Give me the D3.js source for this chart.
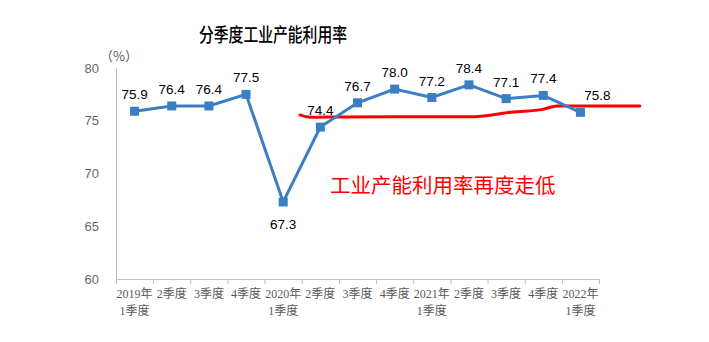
<!DOCTYPE html>
<html><head><meta charset="utf-8">
<script src="https://cdn.jsdelivr.net/npm/d3@7"></script>
<style>body{margin:0;background:#fff;}svg{display:block;}</style>
</head><body>
<script>
const categories = [["2019年","1季度"],["2季度"],["3季度"],["4季度"],["2020年","1季度"],["2季度"],["3季度"],["4季度"],["2021年","1季度"],["2季度"],["3季度"],["4季度"],["2022年","1季度"]];
const values = [75.9,76.4,76.4,77.5,67.3,74.4,76.7,78.0,77.2,78.4,77.1,77.4,75.8];
const labelPos = ["above","above","above","above","below","above","above","above","above","above","above","above","aboveRight"];
const yTicks = [60,65,70,75,80];
const title = "分季度工业产能利用率";
const unit = "（%）";
const annotation = "工业产能利用率再度走低";
// hand-drawn red trend line, in (category index, value) units
const trendX = [4.45,4.72,5.5,7.0,9.11,10.19,10.99,11.37,13.6];
const trendY = [75.55,75.33,75.36,75.38,75.38,75.83,76.08,76.4,76.4];

const W=709,H=342;
const m={left:116,right:110,top:68,bottom:63};
const svg=d3.select("body").append("svg").attr("width",W).attr("height",H);
const x=d3.scaleBand().domain(d3.range(categories.length)).range([m.left,W-m.right]);
const xc=d3.scaleLinear().domain([-0.5,categories.length-0.5]).range([m.left,W-m.right]);
const y=d3.scaleLinear().domain([60,80]).range([H-m.bottom,m.top]);

svg.append("text").attr("x",273).attr("y",42).attr("text-anchor","middle")
  .attr("font-family","'Noto Sans CJK SC',sans-serif").attr("font-size",19).attr("font-weight",500)
  .attr("textLength",148).attr("lengthAdjust","spacingAndGlyphs")
  .attr("fill","#000").text(title);

// y axis
const ya=svg.append("g").attr("transform",`translate(${m.left},0)`)
  .call(d3.axisLeft(y).tickValues(yTicks).tickSize(0).tickPadding(17));
ya.select(".domain").attr("stroke","#bfbfbf");
ya.selectAll("text").attr("font-family","'Liberation Sans',Arial,sans-serif").attr("font-size",13).attr("fill","#666");
svg.append("text").attr("x",119).attr("y",61).attr("text-anchor","middle")
  .attr("font-family","'Noto Sans CJK SC',sans-serif").attr("font-size",13).attr("fill","#595959").text(unit);

// x axis
const xa=svg.append("g").attr("transform",`translate(0,${H-m.bottom})`)
  .call(d3.axisBottom(xc).tickValues(d3.range(-0.5,categories.length,1)).tickSize(5).tickFormat(""));
xa.select(".domain").attr("stroke","#bfbfbf");
xa.selectAll("line").attr("stroke","#bfbfbf");
const xl=svg.append("g");
categories.forEach((c,i)=>{
  const t=xl.append("text").attr("x",x(i)+x.bandwidth()/2).attr("y",H-m.bottom+19).attr("text-anchor","middle")
    .attr("font-family","'Liberation Serif','Noto Sans CJK SC',serif").attr("font-size",12).attr("fill","#595959");
  c.forEach((s,k)=>t.append("tspan").attr("x",x(i)+x.bandwidth()/2).attr("dy",k===0?0:17).text(s));
});

// trend line
svg.append("path").datum(trendX.map((v,i)=>[v,trendY[i]]))
  .attr("d",d3.line().x(d=>xc(d[0])).y(d=>y(d[1])).curve(d3.curveMonotoneX))
  .attr("fill","none").attr("stroke","#ff0000").attr("stroke-width",3).attr("stroke-linecap","round");

svg.append("text").attr("x",330).attr("y",193)
  .attr("font-family","'Noto Sans CJK SC',sans-serif").attr("font-size",20.5).attr("fill","#ff0000").text(annotation);

// series line
const cx=i=>x(i)+x.bandwidth()/2;
svg.append("path").datum(values).attr("d",d3.line().x((d,i)=>cx(i)).y(d=>y(d)))
  .attr("fill","none").attr("stroke","#3a7fc1").attr("stroke-width",3);
svg.selectAll("rect.pt").data(values).join("rect").attr("class","pt")
  .attr("x",(d,i)=>cx(i)-4.5).attr("y",d=>y(d)-4.5).attr("width",9).attr("height",9).attr("fill","#3a7fc1");
svg.selectAll("text.lbl").data(values).join("text").attr("class","lbl")
  .attr("x",(d,i)=>cx(i)+(labelPos[i]==="aboveRight"?17:0))
  .attr("y",(d,i)=>y(d)+(labelPos[i]==="below"?27:-12))
  .attr("text-anchor","middle").attr("font-family","'Liberation Sans',Arial,sans-serif").attr("font-size",13.5)
  .attr("fill","#000").text(d=>d.toFixed(1));
</script>
</body></html>
